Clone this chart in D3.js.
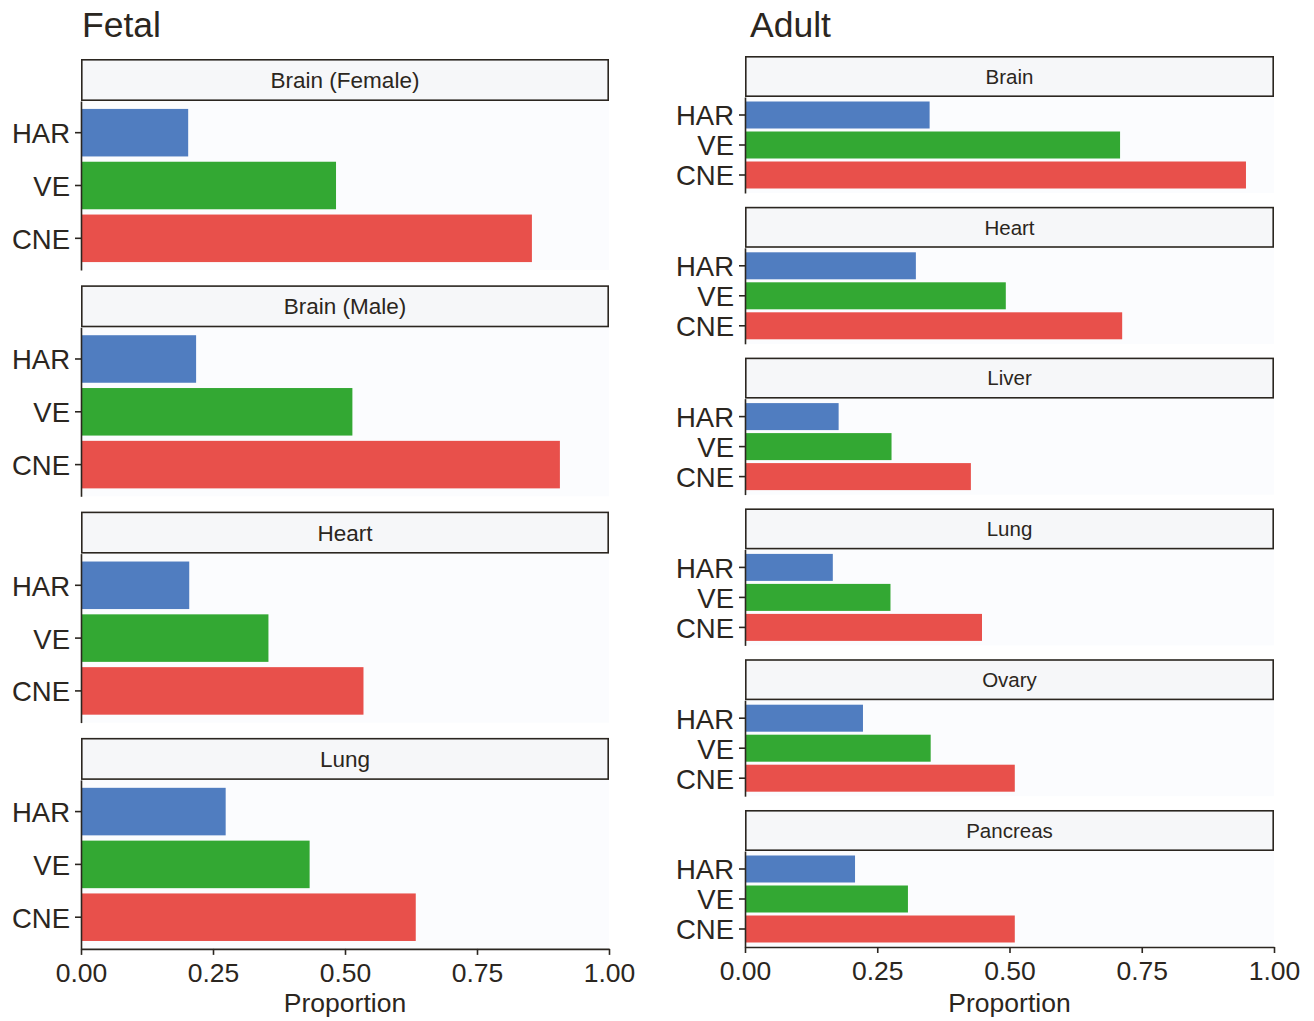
<!DOCTYPE html>
<html>
<head>
<meta charset="utf-8">
<script src="https://cdn.jsdelivr.net/npm/d3@7"></script>
<style>
  html, body { margin: 0; padding: 0; background: #ffffff; }
  svg { display: block; }
  text { font-family: "Liberation Sans", Arial, Helvetica, sans-serif; fill: #2b2620; }
</style>
</head>
<body>
<svg id="chart" width="1314" height="1021"></svg>
<script>
// ---- data ----
const categories = ["HAR", "VE", "CNE"];
const seriesColors = ["#507dc0", "#33a833", "#e8504b"];

const fetalTissues = ["Brain (Female)", "Brain (Male)", "Heart", "Lung"];
const fetalHAR = [0.203, 0.218, 0.205, 0.274];
const fetalVE  = [0.483, 0.514, 0.355, 0.433];
const fetalCNE = [0.854, 0.907, 0.535, 0.634];

const adultTissues = ["Brain", "Heart", "Liver", "Lung", "Ovary", "Pancreas"];
const adultHAR = [0.349, 0.323, 0.177, 0.166, 0.223, 0.208];
const adultVE  = [0.709, 0.493, 0.277, 0.275, 0.351, 0.308];
const adultCNE = [0.947, 0.713, 0.427, 0.448, 0.510, 0.510];

const xTicks = [0, 0.25, 0.5, 0.75, 1.0];
const groupTitles = ["Fetal", "Adult"];
const xTitle = "Proportion";

// ---- layout ----
const svg = d3.select("#chart");
const ink = "#2b2620";

const groups = [
  {
    title: groupTitles[0], tissues: fetalTissues, values: [fetalHAR, fetalVE, fetalCNE],
    x0: 81, x1: 609, top: 59, stripH: 42, panelH: 169, step: 226.3,
    stripFont: 22.5, titleX: 82
  },
  {
    title: groupTitles[1], tissues: adultTissues, values: [adultHAR, adultVE, adultCNE],
    x0: 745, x1: 1274, top: 56, stripH: 41, panelH: 96, step: 150.8,
    stripFont: 20.5, titleX: 750
  }
];

groups.forEach(g => {
  const x = d3.scaleLinear().domain([0, 1]).range([g.x0, g.x1]);

  svg.append("text")
    .attr("x", g.titleX).attr("y", 37)
    .attr("font-size", 35.5)
    .text(g.title);

  let lastBottom = 0;
  g.tissues.forEach((tissue, i) => {
    const sTop = g.top + i * g.step;
    const pTop = sTop + g.stripH;
    const pBot = pTop + g.panelH;
    lastBottom = pBot;

    // panel background
    svg.append("rect")
      .attr("x", g.x0).attr("y", pTop)
      .attr("width", g.x1 - g.x0).attr("height", g.panelH)
      .attr("fill", "#fbfcfe");

    // strip
    svg.append("rect")
      .attr("x", g.x0 + 0.8).attr("y", sTop + 0.8)
      .attr("width", g.x1 - g.x0 - 1.6).attr("height", g.stripH - 1.6)
      .attr("fill", "#f6f7f9")
      .attr("stroke", ink).attr("stroke-width", 1.6);
    svg.append("text")
      .attr("x", (g.x0 + g.x1) / 2)
      .attr("y", sTop + g.stripH / 2)
      .attr("dy", "0.36em")
      .attr("text-anchor", "middle")
      .attr("font-size", g.stripFont)
      .text(tissue);

    const y = d3.scaleBand()
      .domain(categories)
      .range([pTop, pBot])
      .paddingInner(0.1)
      .paddingOuter(0.15);

    const rows = categories.map((c, k) => ({ cat: c, v: g.values[k][i], color: seriesColors[k] }));
    svg.append("g").selectAll("rect")
      .data(rows).join("rect")
      .attr("x", x(0))
      .attr("y", d => y(d.cat))
      .attr("width", d => x(d.v) - x(0))
      .attr("height", y.bandwidth())
      .attr("fill", d => d.color);

    const yAxis = svg.append("g")
      .attr("transform", `translate(${g.x0},0)`)
      .call(d3.axisLeft(y).tickSize(6).tickSizeOuter(0).tickPadding(5));
    yAxis.selectAll("path.domain").attr("stroke", ink).attr("stroke-width", 1.6);
    yAxis.selectAll(".tick line").attr("stroke", ink).attr("stroke-width", 1.6);
    yAxis.selectAll(".tick text")
      .attr("font-size", 27.5)
      .attr("dy", "0.38em")
      .attr("font-family", '"Liberation Sans", Arial, sans-serif')
      .attr("fill", ink);
  });

  const xAxis = svg.append("g")
    .attr("transform", `translate(0,${lastBottom})`)
    .call(d3.axisBottom(x).tickValues(xTicks).tickFormat(d3.format(".2f"))
      .tickSize(6).tickSizeOuter(0).tickPadding(8));
  xAxis.selectAll("path.domain").attr("stroke", ink).attr("stroke-width", 1.6);
  xAxis.selectAll(".tick line").attr("stroke", ink).attr("stroke-width", 1.6);
  xAxis.selectAll(".tick text")
    .attr("font-size", 26.5)
    .attr("font-family", '"Liberation Sans", Arial, sans-serif')
    .attr("fill", ink);

  svg.append("text")
    .attr("x", (g.x0 + g.x1) / 2)
    .attr("y", 1012)
    .attr("text-anchor", "middle")
    .attr("font-size", 26.5)
    .text(xTitle);
});
</script>
</body>
</html>
